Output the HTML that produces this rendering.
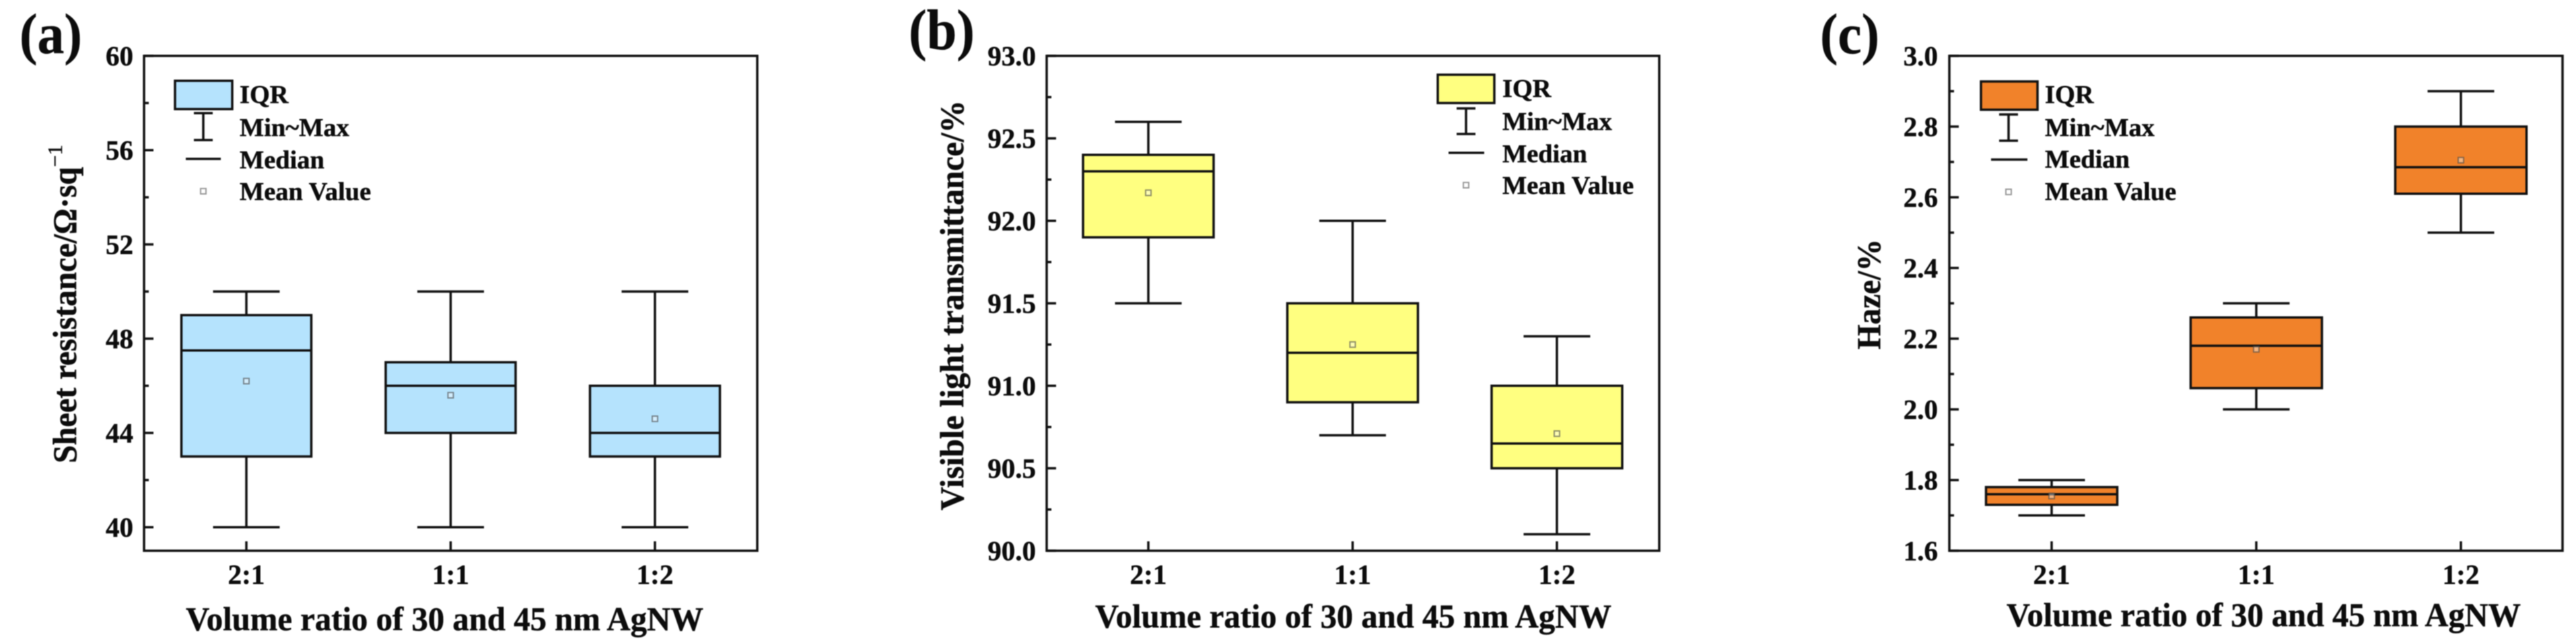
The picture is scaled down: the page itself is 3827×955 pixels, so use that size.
<!DOCTYPE html>
<html lang="en">
<head>
<meta charset="utf-8">
<title>Box plots of sheet resistance, visible light transmittance and haze</title>
<style>
  html, body { margin: 0; padding: 0; background: #fff; width: 3827px; height: 955px; overflow: hidden; }
  svg { display: block; filter: blur(0.7px); }
  text { font-family: "Liberation Serif", "DejaVu Serif", serif; font-weight: bold; fill: #0c0c0c; stroke: #0c0c0c; stroke-width: 0.5px; }
  .tick { font-size: 41px; }
  .title { font-size: 50px; }
  .legend { font-size: 38.4px; }
  .letter { font-size: 85px; }
</style>
</head>
<body>
<svg id="figure" xmlns="http://www.w3.org/2000/svg" width="3827" height="955" viewBox="0 0 3827 955">
  <rect x="0" y="0" width="3827" height="955" fill="#fff"/>

  <text class="letter" x="29" y="79" textLength="93" lengthAdjust="spacingAndGlyphs">(a)</text>
  <text class="letter" x="1350" y="73" textLength="98" lengthAdjust="spacingAndGlyphs">(b)</text>
  <text class="letter" x="2704" y="79" textLength="88" lengthAdjust="spacingAndGlyphs">(c)</text>

  <g id="plot-a"></g>
  <g id="plot-b"></g>
  <g id="plot-c"></g>

  <text class="title" transform="translate(113 688) rotate(-90)" textLength="440" lengthAdjust="spacingAndGlyphs">Sheet resistance/Ω·sq</text>
  <text transform="translate(92 248) rotate(-90)" style="font-size:31px;font-weight:normal">−1</text>
  <text class="title" transform="translate(1431 758) rotate(-90)" textLength="609" lengthAdjust="spacingAndGlyphs">Visible light transmittance/%</text>
  <text class="title" transform="translate(2793 519) rotate(-90)" textLength="164" lengthAdjust="spacingAndGlyphs">Haze/%</text>

  <text class="title" x="276" y="936" textLength="769" lengthAdjust="spacingAndGlyphs">Volume ratio of 30 and 45 nm AgNW</text>
  <text class="title" x="1627" y="932" textLength="767" lengthAdjust="spacingAndGlyphs">Volume ratio of 30 and 45 nm AgNW</text>
  <text class="title" x="2981" y="930" textLength="764" lengthAdjust="spacingAndGlyphs">Volume ratio of 30 and 45 nm AgNW</text>

  <g>
    <rect x="260" y="120" width="85" height="42" fill="#b5e3fd" stroke="#111" stroke-width="3.5"/>
    <path d="M288 168H316M302 168V208M288 208H316" fill="none" stroke="#111" stroke-width="3.5"/>
    <path d="M276 236H328" fill="none" stroke="#111" stroke-width="3.5"/>
    <rect x="298" y="280" width="8" height="8" fill="#fff" stroke="#999" stroke-width="2"/>
    <text class="legend" x="356" y="153">IQR</text>
    <text class="legend" x="356" y="202">Min~Max</text>
    <text class="legend" x="356" y="250">Median</text>
    <text class="legend" x="356" y="297">Mean Value</text>
  </g>
  <g>
    <rect x="2136" y="111" width="84" height="42" fill="#ffff80" stroke="#111" stroke-width="3.5"/>
    <path d="M2164 161H2192M2178 161V199M2164 199H2192" fill="none" stroke="#111" stroke-width="3.5"/>
    <path d="M2152 227H2205" fill="none" stroke="#111" stroke-width="3.5"/>
    <rect x="2174" y="271" width="8" height="8" fill="#fff" stroke="#999" stroke-width="2"/>
    <text class="legend" x="2232" y="144">IQR</text>
    <text class="legend" x="2232" y="193">Min~Max</text>
    <text class="legend" x="2232" y="241">Median</text>
    <text class="legend" x="2232" y="288">Mean Value</text>
  </g>
  <g>
    <rect x="2943" y="121" width="84" height="42" fill="#f1822a" stroke="#111" stroke-width="3.5"/>
    <path d="M2970 170H2998M2984 170V209M2970 209H2998" fill="none" stroke="#111" stroke-width="3.5"/>
    <path d="M2958 237H3012" fill="none" stroke="#111" stroke-width="3.5"/>
    <rect x="2980" y="281" width="8" height="8" fill="#fff" stroke="#999" stroke-width="2"/>
    <text class="legend" x="3038" y="153">IQR</text>
    <text class="legend" x="3038" y="202">Min~Max</text>
    <text class="legend" x="3038" y="249">Median</text>
    <text class="legend" x="3038" y="297">Mean Value</text>
  </g>
</svg>

<script>
const categories = ['2:1', '1:1', '1:2'];

const aMin = [40, 40, 40];
const aQ1 = [43, 44, 43];
const aMedian = [47.5, 46, 44];
const aQ3 = [49, 47, 46];
const aMax = [50, 50, 50];
const aMean = [46.2, 45.6, 44.6];
const aDomain = [39, 60];
const aMajorTicks = [40, 44, 48, 52, 56, 60];
const aMinorTicks = [42, 46, 50, 54, 58];
const aTickLabels = ['40', '44', '48', '52', '56', '60'];

const bMin = [91.5, 90.7, 90.1];
const bQ1 = [91.9, 90.9, 90.5];
const bMedian = [92.3, 91.2, 90.65];
const bQ3 = [92.4, 91.5, 91.0];
const bMax = [92.6, 92.0, 91.3];
const bMean = [92.17, 91.25, 90.71];
const bDomain = [90, 93];
const bMajorTicks = [90, 90.5, 91, 91.5, 92, 92.5, 93];
const bMinorTicks = [90.25, 90.75, 91.25, 91.75, 92.25, 92.75];
const bTickLabels = ['90.0', '90.5', '91.0', '91.5', '92.0', '92.5', '93.0'];

const cMin = [1.70, 2.00, 2.50];
const cQ1 = [1.73, 2.06, 2.61];
const cMedian = [1.76, 2.18, 2.685];
const cQ3 = [1.78, 2.26, 2.80];
const cMax = [1.80, 2.30, 2.90];
const cMean = [1.755, 2.17, 2.705];
const cDomain = [1.6, 3.0];
const cMajorTicks = [1.6, 1.8, 2.0, 2.2, 2.4, 2.6, 2.8, 3.0];
const cMinorTicks = [1.7, 1.9, 2.1, 2.3, 2.5, 2.7, 2.9];
const cTickLabels = ['1.6', '1.8', '2.0', '2.2', '2.4', '2.6', '2.8', '3.0'];

const NS = 'http://www.w3.org/2000/svg';
const INK = '#111';
const LINE = 3.5;

function svgEl(parent, tag, attrs) {
  const el = document.createElementNS(NS, tag);
  for (const k in attrs) el.setAttribute(k, attrs[k]);
  parent.appendChild(el);
  return el;
}

function line(parent, x1, y1, x2, y2, width) {
  return svgEl(parent, 'line', { x1: x1, y1: y1, x2: x2, y2: y2, stroke: INK, 'stroke-width': width || LINE });
}

function drawPlot(groupId, frame, domain, fill, series, majorTicks, minorTicks, tickLabels) {
  const g = document.getElementById(groupId);
  const yAxis = function (v) {
    return frame.bottom - (v - domain[0]) / (domain[1] - domain[0]) * (frame.bottom - frame.top);
  };
  const xAxis = function (i) {
    return frame.firstX + i * frame.stepX;
  };

  categories.forEach(function (cat, i) {
    const x = xAxis(i);

    const upper = line(g, x, yAxis(series.q3[i]), x, yAxis(series.max[i]));
    
    

    const lower = line(g, x, yAxis(series.q1[i]), x, yAxis(series.min[i]));
    
    

    const maxCap = line(g, x - frame.capW / 2, yAxis(series.max[i]), x + frame.capW / 2, yAxis(series.max[i]));
    
    

    const minCap = line(g, x - frame.capW / 2, yAxis(series.min[i]), x + frame.capW / 2, yAxis(series.min[i]));
    
    

    const box = svgEl(g, 'rect', {
      x: x - frame.boxW / 2,
      y: yAxis(series.q3[i]),
      width: frame.boxW,
      height: yAxis(series.q1[i]) - yAxis(series.q3[i]),
      fill: fill,
      stroke: INK,
      'stroke-width': LINE
    });
    
    

    const med = line(g, x - frame.boxW / 2, yAxis(series.median[i]), x + frame.boxW / 2, yAxis(series.median[i]));
    
    

    const mean = svgEl(g, 'rect', {
      x: x - 4,
      y: yAxis(series.mean[i]) - 4,
      width: 8,
      height: 8,
      fill: 'rgba(255,255,255,0.4)',
      stroke: 'rgba(70,70,70,0.6)',
      'stroke-width': 2
    });
    
    

    const tick = line(g, x, frame.bottom, x, frame.bottom - 14);
    
    

    const label = svgEl(g, 'text', { class: 'tick', x: x, y: frame.bottom + 49, 'text-anchor': 'middle' });
    label.textContent = cat;
    
    
  });

  majorTicks.forEach(function (v, i) {
    const t = line(g, frame.left, yAxis(v), frame.left + 14, yAxis(v));
    
    

    const label = svgEl(g, 'text', { class: 'tick', x: frame.labelRight, y: yAxis(v) + 14, 'text-anchor': 'end' });
    label.textContent = tickLabels[i];
    
    
  });

  minorTicks.forEach(function (v) {
    const t = line(g, frame.left, yAxis(v), frame.left + 7, yAxis(v));
    
    
  });

  const border = svgEl(g, 'rect', {
    x: frame.left,
    y: frame.top,
    width: frame.right - frame.left,
    height: frame.bottom - frame.top,
    fill: 'none',
    stroke: INK,
    'stroke-width': LINE
  });
  
  
}

drawPlot('plot-a',
  { left: 214, right: 1125, top: 83, bottom: 818, firstX: 366, stepX: 303.5, boxW: 193, capW: 99, labelRight: 198 },
  aDomain, '#b5e3fd',
  { min: aMin, q1: aQ1, median: aMedian, q3: aQ3, max: aMax, mean: aMean },
  aMajorTicks, aMinorTicks, aTickLabels);

drawPlot('plot-b',
  { left: 1555, right: 2465, top: 83, bottom: 818, firstX: 1706, stepX: 303.5, boxW: 194, capW: 99, labelRight: 1539 },
  bDomain, '#ffff80',
  { min: bMin, q1: bQ1, median: bMedian, q3: bQ3, max: bMax, mean: bMean },
  bMajorTicks, bMinorTicks, bTickLabels);

drawPlot('plot-c',
  { left: 2896, right: 3807, top: 83, bottom: 818, firstX: 3048, stepX: 304, boxW: 195, capW: 99, labelRight: 2879 },
  cDomain, '#f1822a',
  { min: cMin, q1: cQ1, median: cMedian, q3: cQ3, max: cMax, mean: cMean },
  cMajorTicks, cMinorTicks, cTickLabels);
</script>
</body>
</html>
